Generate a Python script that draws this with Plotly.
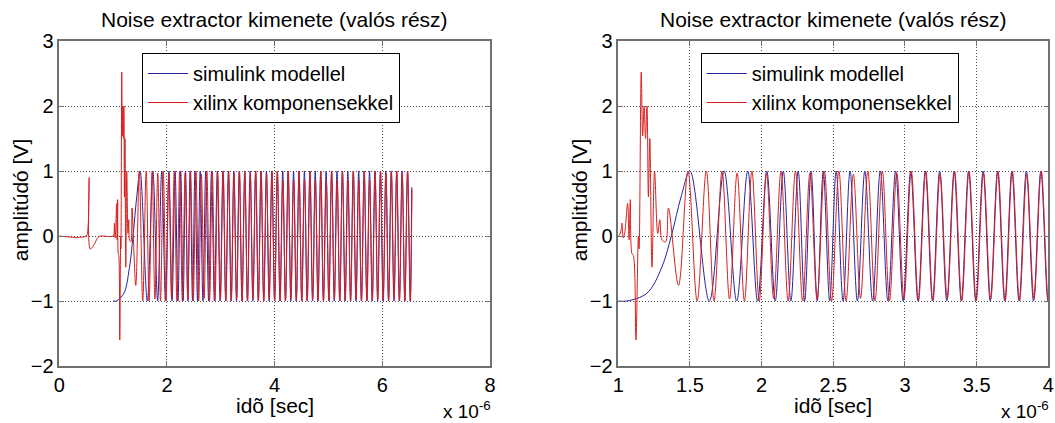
import plotly.graph_objects as go

# Time axis in units of 1e-6 s (the "x 10^-6" multiplier is shown beside the axis)

# --- Xilinx-component output (red) ---------------------------------------
# start-up transient: (time, value) pairs
red_tr_t = [0.0, 0.50, 0.53, 0.555, 0.575, 0.64, 0.72, 0.76, 1.00, 1.02, 1.025, 1.035,
            1.045, 1.065, 1.075, 1.084, 1.095, 1.105, 1.123, 1.14, 1.145, 1.16, 1.17,
            1.18, 1.19, 1.20, 1.21, 1.22, 1.235, 1.253, 1.275, 1.29, 1.305, 1.33,
            1.35, 1.42]
red_tr_v = [0.0, 0.0, 0.1, 0.9, -0.2, -0.14, -0.02, 0.0, 0.0, 0.1, 0.2, -0.03,
            0.05, 0.5, -0.06, 0.56, -0.27, -0.3, -1.6, 0.0, -0.2, 2.52, 1.54,
            2.0, 1.5, 2.0, 0.6, 1.5, -0.48, 1.0, 0.04, 0.25, -0.06, -0.09,
            0.43, -0.76]

# steady oscillation: peaks and troughs
red_peak_t = [1.486, 1.614, 1.724, 1.829, 1.932, 2.034, 2.135, 2.236, 2.337, 2.438,
              2.539, 2.640, 2.741, 2.842, 2.943, 3.044, 3.145, 3.245, 3.346, 3.447,
              3.548, 3.649, 3.749, 3.850, 3.951, 4.052, 4.153, 4.253, 4.354, 4.455,
              4.556, 4.657, 4.757, 4.858, 4.959, 5.060, 5.161, 5.261, 5.362, 5.463,
              5.564, 5.665, 5.765, 5.866, 5.967, 6.068, 6.169, 6.269, 6.370, 6.471]
red_peak_v = [1.0, 1.0, 1.0, 0.97, 1.0, 0.96, 1.0, 1.0, 0.97, 1.0,
              1.0, 0.95, 1.0, 1.0, 0.97, 1.0, 1.0, 0.96, 1.0, 1.0,
              0.97, 1.0, 1.0, 0.95, 1.0, 1.0, 0.86, 1.0, 0.86, 1.0,
              0.86, 1.0, 0.86, 1.0, 0.86, 1.0, 0.86, 1.0, 0.86, 1.0,
              0.86, 1.0, 0.86, 1.0, 1.0, 0.96, 1.0, 1.0, 0.97, 1.0]
red_trough_t = [1.550, 1.668, 1.776, 1.880, 1.983, 2.084, 2.185, 2.286, 2.387, 2.488,
                2.589, 2.690, 2.791, 2.892, 2.993, 3.094, 3.195, 3.295, 3.396, 3.497,
                3.598, 3.699, 3.799, 3.900, 4.001, 4.102, 4.203, 4.303, 4.404, 4.505,
                4.606, 4.707, 4.807, 4.908, 5.009, 5.110, 5.211, 5.311, 5.412, 5.513,
                5.614, 5.715, 5.815, 5.916, 6.017, 6.118, 6.219, 6.319, 6.420, 6.521]
red_trough_v = [-1.0, -1.0, -0.97, -1.0, -1.0, -0.96, -1.0, -1.0, -0.97, -1.0,
                -1.0, -0.96, -1.0, -1.0, -0.97, -1.0, -1.0, -0.96, -1.0, -1.0,
                -0.97, -1.0, -1.0, -0.96, -1.0, -1.0, -1.0, -0.97, -1.0, -1.0,
                -1.0, -0.97, -1.0, -1.0, -1.0, -0.97, -1.0, -1.0, -1.0, -0.97,
                -1.0, -1.0, -1.0, -0.97, -1.0, -1.0, -0.96, -1.0, -1.0, -1.0]
red_end_t = [6.55]
red_end_v = [0.72]

# --- Simulink-model output (blue) ----------------------------------------
# slow start from -1, then a chirp that locks onto the red oscillation
blue_start_t = [1.0, 1.06, 1.2, 1.3, 1.37, 1.44]
blue_start_v = [-1.0, -1.0, -0.88, -0.5, 0.0, 0.62]
blue_peak_t = [1.500, 1.738, 1.903, 2.036, 2.151, 2.255, 2.345, 2.430, 2.520, 2.617,
               2.720, 2.828, 2.935, 3.040, 3.142, 3.242, 3.343, 3.444, 3.545, 3.646,
               3.746, 3.847, 3.948, 4.049, 4.150, 4.250, 4.351, 4.452, 4.553, 4.654,
               4.754, 4.855, 4.956, 5.057, 5.158, 5.258, 5.359, 5.460, 5.561, 5.662,
               5.762, 5.863, 5.964, 6.065, 6.166, 6.266, 6.367, 6.468]
blue_peak_v = [1.0, 1.0, 1.0, 1.0, 1.0, 1.0, 1.0, 1.0, 1.0, 1.0, 1.0, 1.0,
               1.0, 1.0, 1.0, 1.0, 1.0, 1.0, 1.0, 1.0, 1.0, 1.0, 1.0, 1.0,
               1.0, 1.0, 1.0, 1.0, 1.0, 1.0, 1.0, 1.0, 1.0, 1.0, 1.0, 1.0,
               1.0, 1.0, 1.0, 1.0, 1.0, 1.0, 1.0, 1.0, 1.0, 1.0, 1.0, 1.0]
blue_trough_t = [1.635, 1.826, 1.972, 2.095, 2.204, 2.300, 2.388, 2.475, 2.568, 2.668,
                 2.774, 2.881, 2.987, 3.091, 3.192, 3.292, 3.393, 3.494, 3.595, 3.696,
                 3.796, 3.897, 3.998, 4.099, 4.200, 4.300, 4.401, 4.502, 4.603, 4.704,
                 4.804, 4.905, 5.006, 5.107, 5.208, 5.308, 5.409, 5.510, 5.611, 5.712,
                 5.812, 5.913, 6.014, 6.115, 6.216, 6.316, 6.417, 6.518]
blue_trough_v = [-1.0, -1.0, -1.0, -1.0, -1.0, -1.0, -1.0, -1.0, -1.0, -1.0, -1.0, -1.0,
                 -1.0, -1.0, -1.0, -1.0, -1.0, -1.0, -1.0, -1.0, -1.0, -1.0, -1.0, -1.0,
                 -1.0, -1.0, -1.0, -1.0, -1.0, -1.0, -1.0, -1.0, -1.0, -1.0, -1.0, -1.0,
                 -1.0, -1.0, -1.0, -1.0, -1.0, -1.0, -1.0, -1.0, -1.0, -1.0, -1.0, -1.0]
blue_end_t = [6.547]
blue_end_v = [0.75]

# axis ticks
left_xticks = [0, 2, 4, 6, 8]
right_xticks = [1, 1.5, 2, 2.5, 3, 3.5, 4]
yticks = [-2, -1, 0, 1, 2, 3]

title_text = "Noise extractor kimenete (valós rész)"
x_title = "idõ [sec]"
y_title = "amplitúdó [V]"
series_names = ["simulink modellel", "xilinx komponensekkel"]


def merge(*pairs):
    """Join (times, values) pieces into one time-ordered series."""
    pts = []
    for ts, vs in pairs:
        pts.extend(zip(ts, vs))
    pts.sort(key=lambda p: p[0])
    return [p[0] for p in pts], [p[1] for p in pts]


red_t, red_v = merge((red_tr_t, red_tr_v), (red_peak_t, red_peak_v),
                     (red_trough_t, red_trough_v), (red_end_t, red_end_v))
blue_t, blue_v = merge((blue_start_t, blue_start_v), (blue_peak_t, blue_peak_v),
                       (blue_trough_t, blue_trough_v), (blue_end_t, blue_end_v))

W, H = 1055, 423
FONT = "Liberation Sans, Arial, Helvetica, sans-serif"
BLUE = "#2424a0"
RED = "#d82020"
TXT = 21
TICK = 20

# panel geometry in pixels (left, right), shared top/bottom
panels = [(59.3, 490.0), (618.3, 1048.3)]
top_px, bot_px = 41.0, 366.0

fig = go.Figure()

for i, sfx in enumerate(["", "2"]):
    xa = "x" + sfx
    ya = "y" + sfx
    lg = "legend" if i == 0 else "legend2"
    fig.add_trace(go.Scatter(x=blue_t, y=blue_v, mode="lines", name=series_names[0],
                             line=dict(color=BLUE, width=1, shape="spline", smoothing=1.0),
                             xaxis=xa, yaxis=ya, legend=lg))
    fig.add_trace(go.Scatter(x=red_t, y=red_v, mode="lines", name=series_names[1],
                             line=dict(color=RED, width=1, shape="spline", smoothing=1.0),
                             xaxis=xa, yaxis=ya, legend=lg))

axis_common = dict(
    showline=True, mirror="ticks", linecolor="#707070", linewidth=1.5,
    ticks="inside", ticklen=5, tickcolor="#707070", tickwidth=1,
    showgrid=True, gridcolor="#505050", gridwidth=1, griddash="1px,2px",
    zeroline=False, tickfont=dict(family=FONT, size=TICK, color="black"),
    automargin=False,
)

ydom = [1 - bot_px / H, 1 - top_px / H]
for i, (l, r) in enumerate(panels):
    xd = [l / W, r / W]
    sfx = "" if i == 0 else "2"
    xr = [0, 8] if i == 0 else [1, 4]
    xt = left_xticks if i == 0 else right_xticks
    fig.update_layout(**{
        "xaxis" + sfx: dict(domain=xd, range=xr, tickmode="array", tickvals=xt,
                            anchor="y" + sfx, **axis_common),
        "yaxis" + sfx: dict(domain=ydom, range=[-2, 3], tickmode="array", tickvals=yticks,
                            anchor="x" + sfx, **axis_common),
    })

annotations = []
for i, (l, r) in enumerate(panels):
    cx = (l + r) / 2 / W
    annotations.append(dict(text=title_text, x=cx, y=1 - 20 / H, xref="paper", yref="paper",
                            xanchor="center", yanchor="middle", showarrow=False,
                            font=dict(family=FONT, size=TXT, color="black")))
    annotations.append(dict(text=x_title, x=cx, y=1 - 405 / H, xref="paper", yref="paper",
                            xanchor="center", yanchor="middle", showarrow=False,
                            font=dict(family=FONT, size=TXT, color="black")))
    annotations.append(dict(text=y_title, x=(l - 39) / W, y=1 - 200 / H, xref="paper",
                            yref="paper", xanchor="center", yanchor="middle", textangle=-90,
                            showarrow=False, font=dict(family=FONT, size=TXT, color="black")))
    annotations.append(dict(text="x 10<sup>-6</sup>", x=(r + 3) / W, y=-1 / H,
                            xref="paper", yref="paper", xanchor="right", yanchor="bottom",
                            showarrow=False, font=dict(family=FONT, size=19, color="black")))

legend_common = dict(
    xanchor="left", yanchor="top", bgcolor="white", bordercolor="black", borderwidth=1,
    font=dict(family=FONT, size=20, color="black"), tracegroupgap=0, itemwidth=40,
)

fig.update_layout(
    width=W, height=H,
    margin=dict(l=0, r=0, t=0, b=0),
    paper_bgcolor="white", plot_bgcolor="white",
    showlegend=True,
    legend=dict(x=142 / W, y=1 - 53 / H, **legend_common),
    legend2=dict(x=700.7 / W, y=1 - 53 / H, **legend_common),
    annotations=annotations,
)

fig.write_html("out.html")
